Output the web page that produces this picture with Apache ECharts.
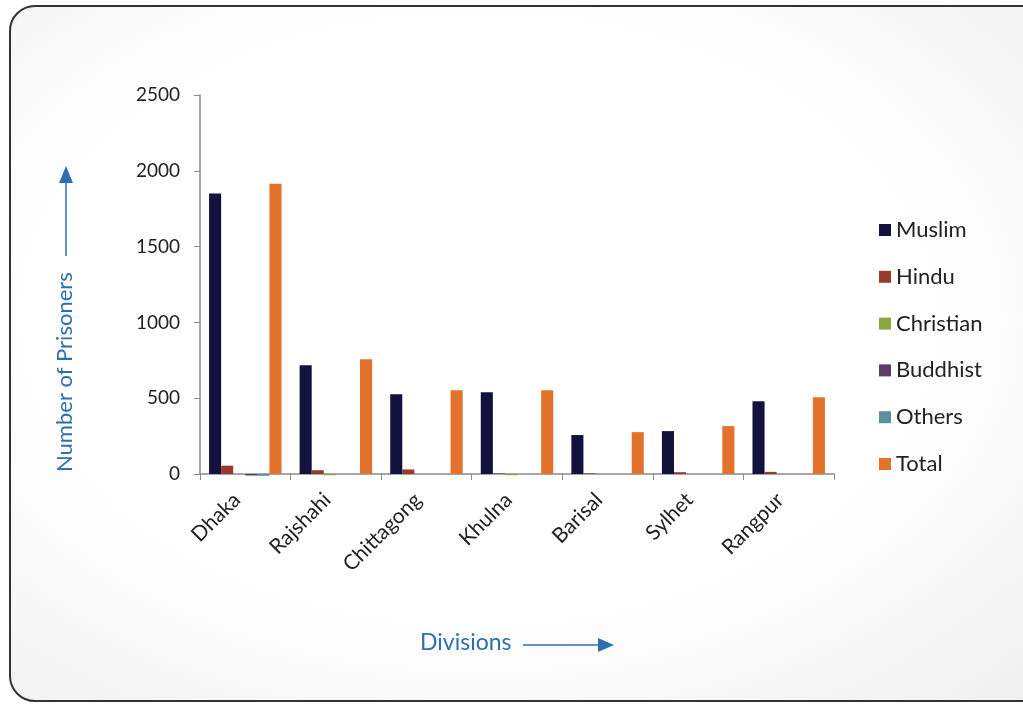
<!DOCTYPE html>
<html>
<head>
<meta charset="utf-8">
<script src="https://cdn.jsdelivr.net/npm/echarts@6/dist/echarts.min.js"></script>
<style>
	html, body { margin: 0; padding: 0; background: #fff; overflow: hidden; }
	#frame {
		position: absolute; left: 9px; top: 5px; width: 1040px; height: 697px;
		border: 2px solid #333; border-radius: 26px; box-sizing: border-box;
		background: radial-gradient(ellipse at 45% 45%, #ffffff 55%, #efefef 100%);
	}
	#chart { position: absolute; left: 0; top: 0; width: 1023px; height: 705px; }
</style>
</head>
<body>
<div id="frame"></div>
<div id="chart"></div>
<script>
	// divisions
	const divisions = ['Dhaka', 'Rajshahi', 'Chittagong', 'Khulna', 'Barisal', 'Sylhet', 'Rangpur']
	// prisoners by religion
	const muslim = [1850, 717, 526, 540, 257, 283, 480]
	const hindu = [55, 25, 30, 4, 4, 12, 14]
	const christian = [0, -8, 0, -8, 0, 0, 0]
	const buddhist = [-10, 0, 0, 0, 0, 0, 0]
	const others = [-12, 0, 0, 0, 0, 0, 0]
	const total = [1914, 757, 553, 553, 276, 316, 507]
	const yTicks = [0, 500, 1000, 1500, 2000, 2500]

	const names = ['Muslim', 'Hindu', 'Christian', 'Buddhist', 'Others', 'Total']
	const colors = ['#12123c', '#963a2c', '#8ca53e', '#5e3b68', '#5f8ea3', '#e2722c']
	const values = [muslim, hindu, christian, buddhist, others, total]

	const chart = echarts.init(document.getElementById('chart'))
	const blue = '#2e6fb0'
	const font = 'Lato, "Open Sans", sans-serif'

	const option = {
		backgroundColor: 'transparent',
		textStyle: { fontFamily: font },
		color: colors,
		grid: { left: 200, right: 189, top: 95, bottom: 231 },
		legend: {
			orient: 'vertical',
			left: 874,
			top: 214,
			itemWidth: 12,
			itemHeight: 12,
			itemGap: 24.8,
			icon: 'rect',
			textStyle: { fontSize: 22, color: '#222', fontFamily: font },
			data: names
		},
		xAxis: {
			type: 'category',
			data: divisions,
			axisLine: { lineStyle: { color: '#8a8a8a', width: 1.5 } },
			axisTick: { show: true, length: 6, lineStyle: { color: '#8a8a8a' } },
			axisLabel: { rotate: 45, fontSize: 21, color: '#222', margin: 14, padding: [0, 12, 0, 0], fontFamily: font }
		},
		yAxis: {
			type: 'value',
			min: yTicks[0],
			max: yTicks[yTicks.length - 1],
			interval: 500,
			splitLine: { show: false },
			axisLine: { show: true, lineStyle: { color: '#8a8a8a', width: 1.5 } },
			axisTick: { show: true, length: 6, lineStyle: { color: '#8a8a8a' } },
			axisLabel: { fontSize: 19, color: '#222', margin: 20, fontFamily: font, formatter: v => String(v) }
		},
		series: names.map((n, i) => ({
			name: n,
			type: 'bar',
			data: values[i],
			barGap: '0%',
			barCategoryGap: '20%',
			clip: false
		})),
		graphic: [
			// y axis title + arrow
			{
				type: 'text', x: 54, y: 472,
				rotation: Math.PI / 2,
				style: { text: 'Number of Prisoners', fill: blue, font: '22px ' + font, textAlign: 'left', textVerticalAlign: 'top' }
			},
			{ type: 'line', shape: { x1: 66, y1: 256, x2: 66, y2: 182 }, style: { stroke: blue, lineWidth: 1.5 } },
			{ type: 'polygon', shape: { points: [[66, 166], [59, 183], [73, 183]] }, style: { fill: blue } },
			// x axis title + arrow
			{
				type: 'text', x: 420, y: 643,
				style: { text: 'Divisions', fill: blue, font: '23px ' + font, textVerticalAlign: 'middle' }
			},
			{ type: 'line', shape: { x1: 523, y1: 645, x2: 600, y2: 645 }, style: { stroke: blue, lineWidth: 1.5 } },
			{ type: 'polygon', shape: { points: [[614, 645], [598, 638], [598, 652]] }, style: { fill: blue } }
		]
	}
	chart.setOption(option)
	window.onresize = function () { chart.resize() }
</script>
</body>
</html>
